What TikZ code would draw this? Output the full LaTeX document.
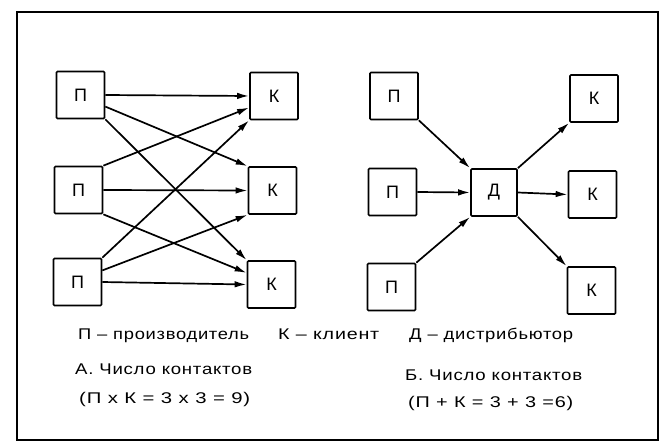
\documentclass[tikz,border=0pt]{standalone}
\usepackage{fontspec}
\setmainfont{Liberation Sans}
\newfontfamily\lblfont[LetterSpace=4]{Liberation Sans}
\usetikzlibrary{arrows.meta}
\newcommand\fitw[2]{\resizebox{#1pt}{\height}{#2}}
\begin{document}
\begin{tikzpicture}[x=1pt,y=-1pt,
  box/.style={draw, line width=1.7pt, minimum width=48pt, minimum height=47pt,
    inner sep=0pt, rounded corners=1pt, font=\fontsize{18}{18}\selectfont},
  link/.style={line width=1.7pt, -{Latex[length=12pt,width=6.5pt]}},
  lbl/.style={anchor=base west, inner sep=0pt, font=\lblfont\fontsize{15.5}{15.5}\selectfont},
  frame/.style={draw, line width=1.8pt}]
\useasboundingbox (0,0) rectangle (661,444);
\draw[frame] (17,12) rectangle (658,440);

% left diagram
\node[box] (p1) at (80.5,95) {П};
\node[box] (p2) at (78.5,190) {П};
\node[box] (p3) at (77.5,282) {П};
\node[box] (k1) at (274,96) {К};
\node[box] (k2) at (272.5,190.5) {К};
\node[box] (k3) at (271.5,284.5) {К};

\draw[link] (p1.east) -- (k1.west);
\draw[link] (p1.-25) -- (k2.north west);
\draw[link] (p1.south east) -- (k3.north west);
\draw[link] (p2.north east) -- (k1.-155);
\draw[link] (p2.east) -- (k2.west);
\draw[link] (p2.south east) -- (k3.155);
\draw[link] (p3.north east) -- (k1.south west);
\draw[link] (p3.25) -- (k2.south west);
\draw[link] (p3.east) -- (k3.west);

% right diagram
\node[box] (q1) at (394,96) {П};
\node[box] (q2) at (392.5,192) {П};
\node[box] (q3) at (391.5,287) {П};
\node[box, minimum width=46pt] (d) at (494,192.5) {Д};
\node[box] (c1) at (594,98.5) {К};
\node[box] (c2) at (592.5,194.5) {К};
\node[box] (c3) at (591.5,290.5) {К};

\draw[link] (q1.south east) -- (d.north west);
\draw[link] (q2.east) -- (d.west);
\draw[link] (q3.north east) -- (d.south west);
\draw[link] (d.north east) -- (c1.south west);
\draw[link] (d.east) -- (c2.west);
\draw[link] (d.south east) -- (c3.north west);

% labels
\node[lbl] (t1) at (78,339) {\fitw{171}{П – производитель}};
\node[lbl] (t2) at (278,339) {\fitw{101}{К – клиент}};
\node[lbl] (t3) at (409,339) {\fitw{164}{Д – дистрибьютор}};
\node[lbl] (a1) at (75,374) {\fitw{177}{А. Число контактов}};
\node[lbl] (a2) at (79,403) {\fitw{171}{(П x К = 3 x 3 = 9)}};
\node[lbl] (b1) at (405,380) {\fitw{177}{Б. Число контактов}};
\node[lbl] (b2) at (408,407) {\fitw{165}{(П + К = 3 + 3 =6)}};
\end{tikzpicture}
\end{document}
